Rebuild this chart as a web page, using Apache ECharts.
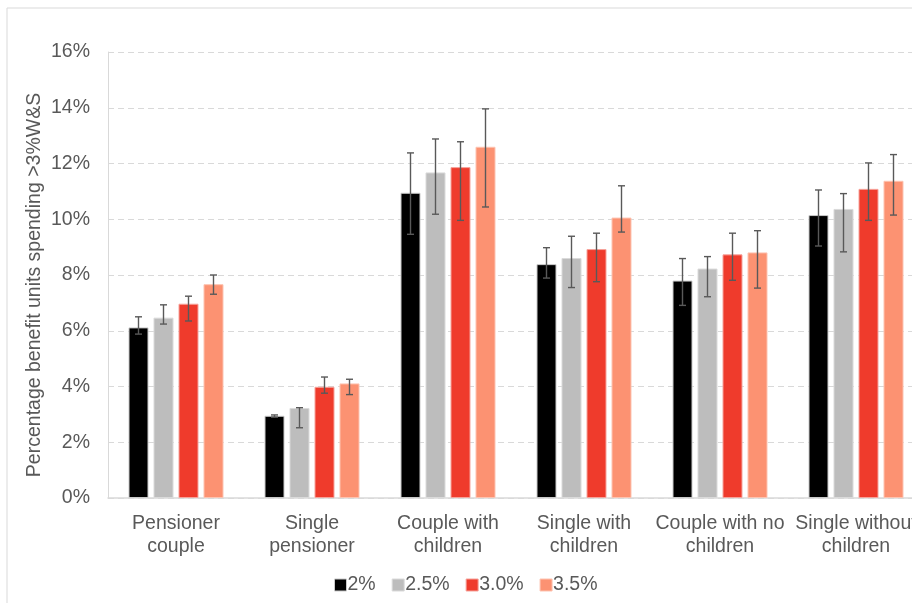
<!DOCTYPE html>
<html>
<head>
<meta charset="utf-8">
<script src="https://cdn.jsdelivr.net/npm/echarts@6/dist/echarts.min.js"></script>
<style>
  html, body { margin: 0; padding: 0; background: #fff; overflow: hidden; }
  #chart { width: 930px; height: 603px; }
</style>
</head>
<body>
<div id="chart"></div>
<script>
// Household types on the x axis
const categories = [
  'Pensioner\ncouple',
  'Single\npensioner',
  'Couple with\nchildren',
  'Single with\nchildren',
  'Couple with no\nchildren',
  'Single without\nchildren'
];

// Scenario names (legend)
const seriesNames = ['2%', '2.5%', '3.0%', '3.5%'];

// Share of benefit units spending >3% on water & sewerage (%)
const val2 = [6.12, 2.95, 10.95, 8.39, 7.80, 10.15];
const val25 = [6.47, 3.23, 11.68, 8.61, 8.23, 10.37];
const val30 = [6.97, 3.99, 11.87, 8.93, 8.74, 11.09];
const val35 = [7.67, 4.11, 12.60, 10.06, 8.81, 11.38];

// Confidence interval bounds (%)
const low2 = [5.88, 2.90, 9.46, 7.89, 6.91, 9.04];
const high2 = [6.50, 2.98, 12.38, 8.98, 8.59, 11.05];
const low25 = [6.24, 2.52, 10.18, 7.55, 7.22, 8.83];
const high25 = [6.93, 3.24, 12.88, 9.39, 8.66, 10.92];
const low30 = [6.35, 3.76, 9.96, 7.76, 7.81, 9.96];
const high30 = [7.24, 4.34, 12.78, 9.50, 9.50, 12.02];
const low35 = [7.31, 3.71, 10.44, 9.54, 7.53, 10.15];
const high35 = [8.00, 4.26, 13.96, 11.20, 9.59, 12.32];

// Y axis ticks
const yMin = 0, yMax = 16, yStep = 2;

const values = [val2, val25, val30, val35];
const lows = [low2, low25, low30, low35];
const highs = [high2, high25, high30, high35];

const fills = ['#000000', '#bdbdbd', '#ef3b2c', '#fc9272'];
const edges = ['#c9c9c9', '#dadada', '#f6a39b', '#fdc3b1'];

const FONT = '"Liberation Sans", Arial, sans-serif';
const TXT = '#595959';
const FS = 19.5;
const BAR_W = 20;
const STEP = 25; // bar width + gap

const barSeries = values.map((v, i) => ({
  name: seriesNames[i],
  type: 'bar',
  data: v,
  barWidth: BAR_W,
  barGap: '25%',
  itemStyle: { color: fills[i], borderColor: edges[i], borderWidth: 1 },
  emphasis: { disabled: true },
  z: 2
}));

const errorSeries = values.map((v, i) => ({
  type: 'custom',
  name: seriesNames[i] + ' CI',
  data: v.map((_, k) => [k, lows[i][k], highs[i][k]]),
  renderItem: function (params, api) {
    const c = api.value(0);
    const lo = api.coord([c, api.value(1)]);
    const hi = api.coord([c, api.value(2)]);
    const x = lo[0] + (i - 1.5) * STEP;
    const cap = 3.5;
    const style = { stroke: '#595959', lineWidth: 1.4 };
    return {
      type: 'group',
      children: [
        { type: 'line', shape: { x1: x, y1: hi[1], x2: x, y2: lo[1] }, style: style },
        { type: 'line', shape: { x1: x - cap, y1: hi[1], x2: x + cap, y2: hi[1] }, style: style },
        { type: 'line', shape: { x1: x - cap, y1: lo[1], x2: x + cap, y2: lo[1] }, style: style }
      ]
    };
  },
  encode: { x: 0, y: [1, 2] },
  silent: true,
  z: 5
}));

const chart = echarts.init(document.getElementById('chart'), null, { renderer: 'canvas' });
chart.setOption({
  animation: false,
  backgroundColor: '#ffffff',
  textStyle: { fontFamily: FONT },
  graphic: [{
    type: 'rect',
    shape: { x: 7, y: 8, width: 1000, height: 700 },
    style: { fill: 'none', stroke: '#d9d9d9', lineWidth: 1 },
    silent: true,
    z: -1
  }],
  grid: { left: 108, top: 52, width: 816, height: 446 },
  legend: {
    data: seriesNames,
    left: 329,
    top: 570,
    itemWidth: 12,
    itemHeight: 12,
    itemGap: 16,
    icon: 'rect',
    textStyle: { color: TXT, fontSize: FS, fontFamily: FONT, padding: [0, 0, 0, -4] },
    itemStyle: { borderWidth: 1 }
  },
  xAxis: {
    type: 'category',
    data: categories,
    axisLine: { show: true, lineStyle: { color: '#d9d9d9', width: 1.5 } },
    axisTick: { show: false },
    axisLabel: {
      interval: 0,
      color: TXT,
      fontSize: FS,
      fontFamily: FONT,
      lineHeight: 23,
      margin: 14
    }
  },
  yAxis: {
    type: 'value',
    min: yMin,
    max: yMax,
    interval: yStep,
    name: 'Percentage benefit units spending >3%W&S',
    nameLocation: 'middle',
    nameGap: 63,
    nameMoveOverlap: false,
    nameTextStyle: { color: TXT, fontSize: FS, fontFamily: FONT, padding: [0, 20, 0, 0] },
    axisLine: { show: true, lineStyle: { color: '#d9d9d9', width: 1 } },
    axisTick: { show: false },
    axisLabel: { color: TXT, fontSize: FS, fontFamily: FONT, margin: 18, formatter: '{value}%' },
    splitLine: { show: true, lineStyle: { color: '#d9d9d9', type: [6, 4], width: 1.2 } }
  },
  series: barSeries.concat(errorSeries)
});
</script>
</body>
</html>
